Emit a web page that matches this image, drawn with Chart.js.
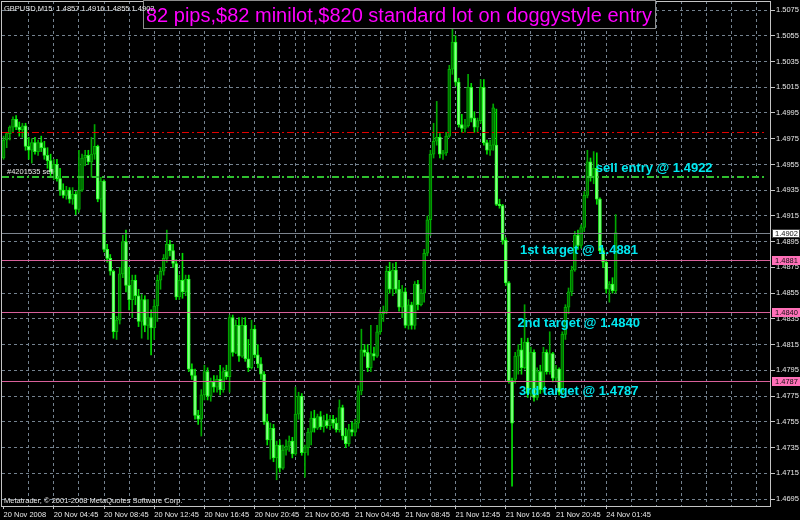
<!DOCTYPE html>
<html><head><meta charset="utf-8">
<script src="https://cdn.jsdelivr.net/npm/chart.js@4.4.1/dist/chart.umd.min.js"></script>
<style>html,body{margin:0;padding:0;background:#000;}canvas{display:block;}</style>
</head><body>
<canvas id="c" width="800" height="520"></canvas>
<script>
// ---------- data ----------
const headerText = "GBPUSD,M15  1.4857 1.4916 1.4855 1.4902";
const titleText = "82 pips,$82 minilot,$820 standard lot on doggystyle entry";
const copyrightText = "Metatrader, \u00A9 2001-2008 MetaQuotes Software Corp.";
const orderText = "#4201535 sell";

// trading sessions: day, start hour, start minute, number of 15-minute slots
const sessions = [["20 Nov", 0, 45, 93], ["21 Nov", 0, 0, 92], ["24 Nov", 0, 0, 60]];
const xTickLabels = ["20 Nov 2008","20 Nov 04:45","20 Nov 08:45","20 Nov 12:45","20 Nov 16:45","20 Nov 20:45","21 Nov 00:45","21 Nov 04:45","21 Nov 08:45","21 Nov 12:45","21 Nov 16:45","21 Nov 20:45","24 Nov 01:45"];
const daySeparators = ["21 Nov 00:00", "24 Nov 00:00"];
const yTickLabels = ["1.4695","1.4715","1.4735","1.4755","1.4775","1.4795","1.4815","1.4835","1.4855","1.4875","1.4895","1.4915","1.4935","1.4955","1.4975","1.4995","1.5015","1.5035","1.5055","1.5075"];

const opens = [
1.4960,1.4974,1.4979,1.4984,1.4990,1.4984,1.4982,1.4985,1.4969,1.4966,
1.4972,1.4965,1.4972,1.4968,1.4962,1.4958,1.4949,1.4955,1.4944,1.4935,
1.4931,1.4935,1.4928,1.4932,1.4920,1.4935,1.4960,1.4962,1.4957,1.4963,
1.4969,1.4928,1.4942,1.4889,1.4882,1.4872,1.4825,1.4834,1.4870,1.4895,
1.4861,1.4850,1.4865,1.4853,1.4833,1.4850,1.4830,1.4836,1.4828,1.4845,
1.4865,1.4872,1.4882,1.4893,1.4888,1.4878,1.4852,1.4865,1.4856,1.4866,
1.4796,1.4791,1.4760,1.4757,1.4776,1.4794,1.4775,1.4786,1.4782,1.4788,
1.4780,1.4794,1.4790,1.4836,1.4809,1.4830,1.4806,1.4830,1.4804,1.4797,
1.4827,1.4807,1.4800,1.4792,1.4755,1.4741,1.4750,1.4727,1.4737,1.4719,
1.4733,1.4736,1.4740,1.4730,1.4761,1.4775,1.4731,1.4735,1.4747,1.4758,
1.4750,1.4759,1.4751,1.4756,1.4752,1.4757,1.4754,1.4749,1.4766,1.4744,
1.4738,1.4749,1.4747,1.4754,1.4779,1.4811,1.4809,1.4797,1.4808,1.4806,
1.4825,1.4839,1.4841,1.4872,1.4858,1.4873,1.4858,1.4844,1.4856,1.4830,
1.4846,1.4830,1.4862,1.4846,1.4855,1.4886,1.4912,1.4963,1.4973,1.4976,
1.4963,1.4964,1.4977,1.5029,1.5050,1.5019,1.4986,1.4983,1.4985,1.5015,
1.4991,1.4984,1.4989,1.5015,1.4972,1.4966,1.4970,1.4970,1.4924,1.4923,
1.4896,1.4863,1.4787,1.4788,1.4806,1.4811,1.4797,1.4817,1.4777,1.4809,
1.4774,1.4794,1.4780,1.4809,1.4794,1.4808,1.4789,1.4796,1.4778,1.4823,
1.4844,1.4856,1.4873,1.4900,1.4892,1.4906,1.4931,1.4957,1.4945,1.4952,
1.4928,1.4888,1.4879,1.4858,1.4862,1.4857];
const highs = [
1.4977,1.4980,1.4985,1.4992,1.4993,1.4988,1.4987,1.4987,1.4976,1.4975,
1.4976,1.4974,1.4977,1.4973,1.4968,1.4963,1.4959,1.4959,1.4952,1.4940,
1.4938,1.4937,1.4937,1.4934,1.4966,1.4963,1.4966,1.4966,1.4976,1.4986,
1.4970,1.4945,1.4943,1.4893,1.4885,1.4873,1.4837,1.4875,1.4900,1.4904,
1.4875,1.4869,1.4869,1.4858,1.4854,1.4853,1.4850,1.4842,1.4850,1.4869,
1.4875,1.4885,1.4904,1.4896,1.4893,1.4881,1.4869,1.4886,1.4869,1.4869,
1.4800,1.4796,1.4764,1.4780,1.4799,1.4797,1.4789,1.4791,1.4791,1.4799,
1.4797,1.4799,1.4838,1.4838,1.4834,1.4836,1.4836,1.4836,1.4819,1.4834,
1.4830,1.4815,1.4805,1.4794,1.4761,1.4754,1.4753,1.4740,1.4741,1.4737,
1.4741,1.4744,1.4743,1.4782,1.4778,1.4777,1.4737,1.4750,1.4763,1.4764,
1.4761,1.4763,1.4760,1.4761,1.4760,1.4760,1.4758,1.4772,1.4768,1.4750,
1.4753,1.4755,1.4757,1.4783,1.4827,1.4815,1.4815,1.4830,1.4813,1.4830,
1.4842,1.4845,1.4876,1.4879,1.4878,1.4879,1.4865,1.4861,1.4859,1.4850,
1.4848,1.4864,1.4865,1.4858,1.4889,1.4915,1.4966,1.4987,1.5004,1.4979,
1.4966,1.4980,1.5032,1.5061,1.5055,1.5022,1.4994,1.4990,1.5025,1.5018,
1.4996,1.4991,1.5021,1.5021,1.4974,1.4974,1.5002,1.4998,1.4928,1.4924,
1.4898,1.4864,1.4789,1.4809,1.4815,1.4820,1.4846,1.4820,1.4813,1.4811,
1.4797,1.4799,1.4813,1.4811,1.4825,1.4809,1.4799,1.4797,1.4825,1.4846,
1.4859,1.4876,1.4903,1.4904,1.4908,1.4934,1.4966,1.4960,1.4965,1.4964,
1.4929,1.4890,1.4881,1.4864,1.4867,1.4916];
const lows = [
1.4959,1.4968,1.4974,1.4980,1.4982,1.4977,1.4976,1.4966,1.4959,1.4956,
1.4963,1.4962,1.4965,1.4959,1.4952,1.4946,1.4943,1.4942,1.4931,1.4929,
1.4928,1.4925,1.4924,1.4916,1.4918,1.4934,1.4954,1.4955,1.4945,1.4959,
1.4926,1.4918,1.4887,1.4879,1.4869,1.4820,1.4819,1.4831,1.4867,1.4856,
1.4842,1.4836,1.4846,1.4829,1.4820,1.4825,1.4819,1.4807,1.4819,1.4833,
1.4858,1.4869,1.4879,1.4884,1.4875,1.4850,1.4850,1.4851,1.4853,1.4794,
1.4788,1.4757,1.4753,1.4744,1.4772,1.4772,1.4771,1.4778,1.4778,1.4776,
1.4778,1.4788,1.4778,1.4806,1.4808,1.4802,1.4805,1.4802,1.4794,1.4796,
1.4805,1.4797,1.4788,1.4753,1.4737,1.4726,1.4724,1.4710,1.4716,1.4718,
1.4729,1.4732,1.4727,1.4729,1.4757,1.4729,1.4712,1.4729,1.4737,1.4747,
1.4749,1.4749,1.4747,1.4750,1.4749,1.4750,1.4747,1.4747,1.4741,1.4735,
1.4736,1.4744,1.4744,1.4750,1.4776,1.4806,1.4794,1.4794,1.4803,1.4805,
1.4823,1.4833,1.4839,1.4855,1.4853,1.4855,1.4841,1.4836,1.4828,1.4827,
1.4827,1.4827,1.4842,1.4845,1.4848,1.4884,1.4900,1.4960,1.4970,1.4960,
1.4959,1.4962,1.4976,1.5025,1.5016,1.4984,1.4980,1.4980,1.4984,1.4988,
1.4980,1.4980,1.4987,1.4970,1.4963,1.4962,1.4966,1.4923,1.4921,1.4893,
1.4861,1.4785,1.4705,1.4785,1.4792,1.4792,1.4796,1.4774,1.4775,1.4771,
1.4772,1.4777,1.4778,1.4792,1.4792,1.4786,1.4786,1.4776,1.4777,1.4819,
1.4839,1.4853,1.4872,1.4889,1.4890,1.4903,1.4929,1.4942,1.4940,1.4924,
1.4886,1.4875,1.4855,1.4848,1.4855,1.4855];
const closes = [
1.4974,1.4979,1.4984,1.4990,1.4984,1.4982,1.4985,1.4969,1.4966,1.4972,
1.4965,1.4972,1.4968,1.4962,1.4958,1.4949,1.4955,1.4944,1.4935,1.4931,
1.4935,1.4928,1.4932,1.4920,1.4935,1.4960,1.4962,1.4957,1.4963,1.4969,
1.4928,1.4942,1.4889,1.4882,1.4872,1.4825,1.4834,1.4870,1.4895,1.4861,
1.4850,1.4865,1.4853,1.4833,1.4850,1.4830,1.4836,1.4828,1.4845,1.4865,
1.4872,1.4882,1.4893,1.4888,1.4878,1.4852,1.4865,1.4856,1.4866,1.4796,
1.4791,1.4760,1.4757,1.4776,1.4794,1.4775,1.4786,1.4782,1.4788,1.4780,
1.4794,1.4790,1.4836,1.4809,1.4830,1.4806,1.4830,1.4804,1.4797,1.4827,
1.4807,1.4800,1.4792,1.4755,1.4741,1.4750,1.4727,1.4737,1.4719,1.4733,
1.4736,1.4740,1.4730,1.4761,1.4775,1.4731,1.4735,1.4747,1.4758,1.4750,
1.4759,1.4751,1.4756,1.4752,1.4757,1.4754,1.4749,1.4766,1.4744,1.4738,
1.4749,1.4747,1.4754,1.4779,1.4811,1.4809,1.4797,1.4808,1.4806,1.4825,
1.4839,1.4841,1.4872,1.4858,1.4873,1.4858,1.4844,1.4856,1.4830,1.4846,
1.4830,1.4862,1.4846,1.4855,1.4886,1.4912,1.4963,1.4973,1.4976,1.4963,
1.4964,1.4977,1.5029,1.5050,1.5019,1.4986,1.4983,1.4985,1.5015,1.4991,
1.4984,1.4989,1.5015,1.4972,1.4966,1.4970,1.4999,1.4924,1.4923,1.4896,
1.4863,1.4787,1.4754,1.4806,1.4811,1.4797,1.4817,1.4777,1.4809,1.4774,
1.4794,1.4780,1.4809,1.4794,1.4808,1.4789,1.4796,1.4778,1.4823,1.4844,
1.4856,1.4873,1.4900,1.4892,1.4906,1.4931,1.4957,1.4945,1.4952,1.4928,
1.4888,1.4879,1.4858,1.4862,1.4857,1.4902];

// horizontal level lines
const stopLevel = 1.4980;
const orderLevel = 1.4945;
const bidLevel = 1.4902;
const targetLevels = [1.4881, 1.4840, 1.4787];

// text notes on the chart
const noteTexts = ["sell entry @ 1.4922", "1st target @ 1.4881", "2nd target @ 1.4840", "3rd target @ 1.4787"];

// ---------- layout / style (not data) ----------
const noteAnchors = [{bar:188.7, price:1.49491}, {bar:164.5, price:1.48854}, {bar:163.7, price:1.48283}, {bar:164.2, price:1.47758}];
const orderAnchor = {bar:1.1, price:1.49475};
const Y_MIN = 1.46896, Y_MAX = 1.50820;
const GRID = "#74828f";
const FONT = "Liberation Sans, Arial, sans-serif";
const BULL_FILL = "#006e00", BULL_EDGE = "#00b000", BULL_WICK = "#00a800";
const BEAR_FILL = "#88ff88", BEAR_EDGE = "#22ff22", BEAR_WICK = "#00e000";

const labels = [];
sessions.forEach(([day, h0, m0, n]) => {
  let t = h0 * 60 + m0;
  for (let k = 0; k < n; k++) {
    const hh = Math.floor(t / 60), mm = t % 60;
    labels.push(day + " " + String(hh).padStart(2, "0") + ":" + String(mm).padStart(2, "0"));
    t += 15;
  }
});
const N = closes.length;
const wickData = labels.map((_, i) => i < N ? [lows[i], highs[i]] : null);
const bodyData = labels.map((_, i) => i < N ? [opens[i], closes[i]] : null);
const bull = i => closes[i] >= opens[i];

function dashLine(c, x0, x1, rowY, color, pattern, thick) {
  c.save();
  c.fillStyle = color;
  let x = x0, k = 0;
  while (x < x1) {
    const len = pattern[k % pattern.length];
    if (k % 2 === 0) c.fillRect(x, rowY, Math.min(len, x1 - x), thick || 1);
    x += len; k++;
  }
  c.restore();
}

const decorPlugin = {
  id: "decor",
  beforeDraw(chart) {
    const c = chart.ctx;
    c.save(); c.fillStyle = "#000"; c.fillRect(0, 0, chart.width, chart.height); c.restore();
  },
  afterDraw(chart) {
    const c = chart.ctx, a = chart.chartArea, x = chart.scales.x, y = chart.scales.y;
    const row = v => Math.round(y.getPixelForValue(v));
    // level lines
    dashLine(c, a.left, a.right - 6, row(stopLevel), "#e00000", [7, 3, 2, 3], 1);
    dashLine(c, a.left, a.right - 6, row(orderLevel) - 1, "#2fbf2f", [7, 3, 2, 3], 2);
    dashLine(c, a.left, a.right, row(bidLevel), "#7c848e", [1000], 1);
    targetLevels.forEach(v => dashLine(c, a.left, a.right, row(v), "#d8609a", [1000], 1));

    c.save();
    // frame
    c.strokeStyle = "#c4c4c4"; c.lineWidth = 1;
    c.strokeRect(a.left - 0.5, a.top + 0.5, a.right - a.left, a.bottom - a.top);
    // title box
    c.fillStyle = "#000"; c.fillRect(144, 1, 511, 27);
    c.strokeStyle = "#8c8c8c"; c.strokeRect(143.5, 0.5, 512, 28);
    c.fillStyle = "#ff00ff"; c.font = "20px " + FONT; c.textBaseline = "alphabetic"; c.textAlign = "left";
    c.fillText(titleText, 146, 22);
    // header / copyright / order tag
    c.fillStyle = "#e8e8e8"; c.font = "7.5px " + FONT;
    c.fillText(headerText, 4, 11);
    c.fillText(copyrightText, 4, 503);
    c.fillText(orderText, x.getPixelForValue(orderAnchor.bar), y.getPixelForValue(orderAnchor.price));
    // notes
    c.fillStyle = "#00e8f0"; c.font = "bold 13px " + FONT;
    noteTexts.forEach((t, i) => {
      c.fillText(t, x.getPixelForValue(noteAnchors[i].bar), y.getPixelForValue(noteAnchors[i].price));
    });
    // price tags on the axis
    c.font = "7.5px " + FONT; c.textBaseline = "middle";
    const tag = (v, bg, boxed) => {
      const p = row(v) + 0.5;
      c.fillStyle = bg;
      c.fillRect(a.right + 1, p - 4.5, 28, 9);
      if (boxed) { c.strokeStyle = "#404040"; c.strokeRect(a.right + 1.5, p - 4, 27, 8); }
      c.fillStyle = "#101010";
      c.fillText(v.toFixed(4), a.right + 4, p + 0.5);
    };
    tag(bidLevel, "#ffffff", true);
    targetLevels.forEach(v => tag(v, "#ff70b8", false));
    c.restore();
  }
};

new Chart(document.getElementById("c"), {
  type: "bar",
  data: {
    labels: labels,
    datasets: [
      { data: wickData, barThickness: 1, grouped: false, order: 2, borderWidth: 0,
        backgroundColor: ctx => bull(ctx.dataIndex) ? BULL_WICK : BEAR_WICK },
      { data: bodyData, barThickness: 3, grouped: false, order: 1, borderWidth: 1, borderSkipped: false, minBarLength: 1,
        backgroundColor: ctx => bull(ctx.dataIndex) ? BULL_FILL : BEAR_FILL,
        borderColor: ctx => bull(ctx.dataIndex) ? BULL_EDGE : BEAR_EDGE }
    ]
  },
  options: {
    responsive: false, animation: false, devicePixelRatio: 1,
    layout: { padding: { left: 2, top: 1, right: 0, bottom: 0 } },
    plugins: { legend: { display: false }, tooltip: { enabled: false }, title: { display: false } },
    scales: {
      x: {
        type: "category", offset: true,
        grid: {
          offset: false, lineWidth: 1, drawTicks: true, tickLength: 3,
          color: ctx => {
            const cat = labels[ctx.index];
            return (daySeparators.includes(cat) || (ctx.index > 0 && ctx.index % 8 === 0)) ? GRID : "rgba(0,0,0,0)";
          },
          tickColor: ctx => {
            const cat = labels[ctx.index];
            return (ctx.index === 0 || xTickLabels.includes(cat)) ? "#c4c4c4" : "rgba(0,0,0,0)";
          }
        },
        border: { display: false, dash: [3, 3] },
        ticks: {
          autoSkip: false, maxRotation: 0, minRotation: 0, align: "start", padding: 1,
          color: "#e8e8e8", font: { family: FONT, size: 7.5 },
          callback: (v, i) => {
            if (i === 0) return xTickLabels[0];
            return xTickLabels.includes(labels[i]) ? labels[i] : "";
          }
        },
        afterFit: s => { s.height = 14; s.paddingLeft = 0; s.paddingRight = 0; }
      },
      y: {
        position: "right", min: Y_MIN, max: Y_MAX,
        afterBuildTicks: s => { s.ticks = yTickLabels.map(t => ({ value: parseFloat(t) })); },
        grid: { color: GRID, lineWidth: 1, tickLength: 4, tickColor: "#c4c4c4" },
        border: { display: false, dash: [3, 3] },
        ticks: { autoSkip: false, padding: 1, color: "#e8e8e8", font: { family: FONT, size: 7.5 },
          callback: v => v.toFixed(4) },
        afterFit: s => { s.width = 29; s.paddingTop = 0; s.paddingBottom = 0; }
      }
    }
  },
  plugins: [decorPlugin]
});
</script>
</body></html>
